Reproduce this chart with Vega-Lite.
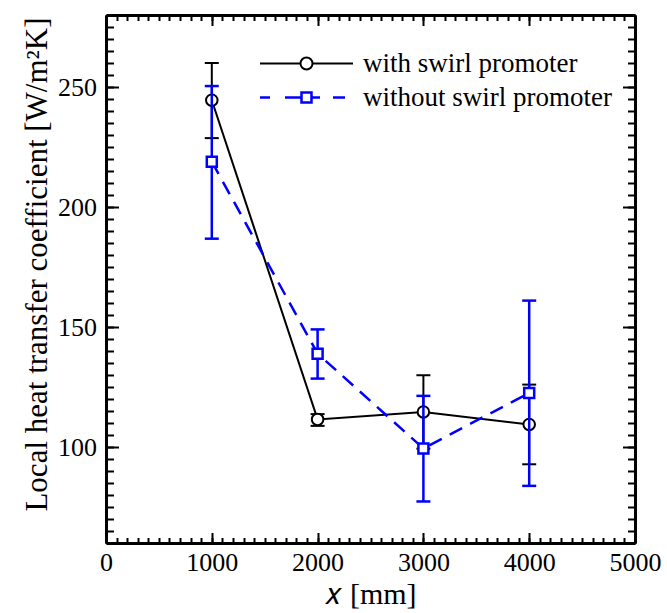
{
  "$schema": "https://vega.github.io/schema/vega-lite/v6.json",
  "autosize": "none",
  "width": 529,
  "height": 528,
  "padding": {"left": 106, "top": 15, "right": 32, "bottom": 70},
  "background": "white",
  "config": {"view": {"stroke": null}, "font": "Liberation Serif",
    "axis": {"labelFont": "Liberation Serif", "titleFont": "Liberation Serif", "labelColor": "black", "titleColor": "black", "tickColor": "black", "domainColor": "black", "grid": false, "titleFontWeight": "normal"},
    "legend": {"labelFont": "Liberation Serif", "labelLimit": 0}},
  "data": {"values": [
    {"series": "with swirl promoter", "x": 1000, "y": 244.5, "lo": 228.7, "hi": 260.0},
    {"series": "with swirl promoter", "x": 2000, "y": 111.5, "lo": 108.8, "hi": 113.7},
    {"series": "with swirl promoter", "x": 3000, "y": 114.6, "lo": 99.3, "hi": 129.9},
    {"series": "with swirl promoter", "x": 4000, "y": 109.4, "lo": 92.8, "hi": 126.0},
    {"series": "without swirl promoter", "x": 1000, "y": 218.9, "lo": 186.8, "hi": 250.4},
    {"series": "without swirl promoter", "x": 2000, "y": 138.9, "lo": 128.5, "hi": 149.0},
    {"series": "without swirl promoter", "x": 3000, "y": 99.4, "lo": 77.3, "hi": 121.3},
    {"series": "without swirl promoter", "x": 4000, "y": 122.5, "lo": 83.8, "hi": 161.0}
  ]},
  "resolve": {"scale": {"x": "shared", "y": "shared"}, "axis": {"x": "independent", "y": "independent"}},
  "layer": [
    {
      "transform": [{"filter": "datum.series === 'with swirl promoter'"}],
      "mark": {"type": "rule", "strokeWidth": 2},
      "encoding": {
        "x": {"field": "x", "type": "quantitative", "scale": {"domain": [0, 5000], "nice": false, "zero": false},
          "axis": {"orient": "bottom", "values": [0, 1000, 2000, 3000, 4000, 5000], "format": "d", "tickSize": -10.5, "tickWidth": 2, "domainWidth": 3, "labelFont": "Liberation Serif", "labelFontSize": 26, "labelPadding": 17, "labelFlush": false, "labelOverlap": false, "title": "𝑥 [mm]", "titleFont": "Liberation Serif", "titleFontSize": 30, "titlePadding": 4}},
        "y": {"field": "lo", "type": "quantitative", "scale": {"domain": [60, 280], "nice": false, "zero": false},
          "axis": {"orient": "left", "values": [100, 150, 200, 250], "format": "d", "tickSize": -12.5, "tickWidth": 2, "domainWidth": 3, "labelFont": "Liberation Serif", "labelFontSize": 26, "labelPadding": 22, "labelFlush": false, "labelOverlap": false, "title": "Local heat transfer coefficient [W/m²K]", "titleFont": "Liberation Serif", "titleFontSize": 31, "titleX": -69, "titleY": 249, "titleAlign": "center", "titleBaseline": "middle"}},
        "y2": {"field": "hi"},
        "color": {"field": "series", "type": "nominal",
          "scale": {"domain": ["with swirl promoter", "without swirl promoter"], "range": ["black", "#0000ff"]},
          "legend": {"orient": "none", "legendX": 187, "legendY": 35, "title": null, "symbolSize": 100, "symbolStrokeWidth": 2, "symbolFillColor": "white",
            "labelFont": "Liberation Serif", "labelFontSize": 27, "labelColor": "black", "labelOffset": 43, "labelLimit": 0, "rowPadding": 6, "padding": 0,
            "encode": {"symbols": {"update": {
              "shape": {"signal": "datum.value === 'with swirl promoter' ? 'M-9.3,0H-1.2M1.2,0H9.3M-1.2,0A1.2,1.2 0 1,0 1.2,0A1.2,1.2 0 1,0 -1.2,0Z' : 'M-9.3,0H-7.3M-4.3,0H-1M1,0H2.7M5.3,0H7.7M-1,-1H1V1H-1Z'"},
              "strokeWidth": {"signal": "datum.value === 'with swirl promoter' ? 2 : 2.5"},
              "fill": {"value": "white"},
              "opacity": {"value": 1}
            }}, "labels": {"update": {"font": {"value": "Liberation Serif"}}}}}}
      }
    },
    {
      "transform": [{"filter": "datum.series === 'with swirl promoter'"}],
      "mark": {"type": "tick", "orient": "horizontal", "size": 14, "thickness": 2, "color": "black", "opacity": 1},
      "encoding": {
        "x": {"field": "x", "type": "quantitative", "scale": {"domain": [0, 5000], "nice": false, "zero": false},
          "axis": {"orient": "bottom", "values": [0,100,200,300,400,500,600,700,800,900,1000,1100,1200,1300,1400,1500,1600,1700,1800,1900,2000,2100,2200,2300,2400,2500,2600,2700,2800,2900,3000,3100,3200,3300,3400,3500,3600,3700,3800,3900,4000,4100,4200,4300,4400,4500,4600,4700,4800,4900,5000], "tickSize": -5.5, "tickWidth": 2, "domain": false, "labels": false, "title": null}},
        "y": {"field": "lo", "type": "quantitative", "scale": {"domain": [60, 280], "nice": false, "zero": false},
          "axis": {"orient": "left", "values": [60,65,70,75,80,85,90,95,100,105,110,115,120,125,130,135,140,145,150,155,160,165,170,175,180,185,190,195,200,205,210,215,220,225,230,235,240,245,250,255,260,265,270,275,280], "tickSize": -7.5, "tickWidth": 2, "domain": false, "labels": false, "title": null}}
      }
    },
    {
      "transform": [{"filter": "datum.series === 'with swirl promoter'"}],
      "mark": {"type": "tick", "orient": "horizontal", "size": 14, "thickness": 2, "color": "black", "opacity": 1},
      "encoding": {
        "x": {"field": "x", "type": "quantitative", "scale": {"domain": [0, 5000], "nice": false, "zero": false},
          "axis": {"orient": "top", "values": [0, 1000, 2000, 3000, 4000, 5000], "tickSize": -10.5, "tickWidth": 2, "domainWidth": 3, "labels": false, "title": null}},
        "y": {"field": "hi", "type": "quantitative", "scale": {"domain": [60, 280], "nice": false, "zero": false},
          "axis": {"orient": "right", "values": [100, 150, 200, 250], "tickSize": -12.5, "tickWidth": 2, "domainWidth": 3, "labels": false, "title": null}}
      }
    },
    {
      "transform": [{"filter": "datum.series === 'with swirl promoter'"}],
      "mark": {"type": "line", "color": "black", "strokeWidth": 2},
      "encoding": {
        "x": {"field": "x", "type": "quantitative", "scale": {"domain": [0, 5000], "nice": false, "zero": false},
          "axis": {"orient": "top", "values": [0,100,200,300,400,500,600,700,800,900,1000,1100,1200,1300,1400,1500,1600,1700,1800,1900,2000,2100,2200,2300,2400,2500,2600,2700,2800,2900,3000,3100,3200,3300,3400,3500,3600,3700,3800,3900,4000,4100,4200,4300,4400,4500,4600,4700,4800,4900,5000], "tickSize": -5.5, "tickWidth": 2, "domain": false, "labels": false, "title": null}},
        "y": {"field": "y", "type": "quantitative", "scale": {"domain": [60, 280], "nice": false, "zero": false},
          "axis": {"orient": "right", "values": [60,65,70,75,80,85,90,95,100,105,110,115,120,125,130,135,140,145,150,155,160,165,170,175,180,185,190,195,200,205,210,215,220,225,230,235,240,245,250,255,260,265,270,275,280], "tickSize": -7.5, "tickWidth": 2, "domain": false, "labels": false, "title": null}}
      }
    },
    {
      "transform": [{"filter": "datum.series === 'with swirl promoter'"}],
      "mark": {"type": "point", "shape": "circle", "size": 133, "filled": true, "fill": "white", "stroke": "black", "strokeWidth": 2, "opacity": 1},
      "encoding": {
        "x": {"field": "x", "type": "quantitative", "axis": null},
        "y": {"field": "y", "type": "quantitative", "axis": null}
      }
    },
    {
      "transform": [{"filter": "datum.series === 'without swirl promoter'"}],
      "mark": {"type": "rule", "strokeWidth": 2.5, "color": "#0000ff"},
      "encoding": {
        "x": {"field": "x", "type": "quantitative", "axis": null},
        "y": {"field": "lo", "type": "quantitative", "axis": null},
        "y2": {"field": "hi"}
      }
    },
    {
      "transform": [{"filter": "datum.series === 'without swirl promoter'"}],
      "mark": {"type": "tick", "orient": "horizontal", "size": 14, "thickness": 2.5, "color": "#0000ff", "opacity": 1},
      "encoding": {
        "x": {"field": "x", "type": "quantitative", "axis": null},
        "y": {"field": "lo", "type": "quantitative", "axis": null}
      }
    },
    {
      "transform": [{"filter": "datum.series === 'without swirl promoter'"}],
      "mark": {"type": "tick", "orient": "horizontal", "size": 14, "thickness": 2.5, "color": "#0000ff", "opacity": 1},
      "encoding": {
        "x": {"field": "x", "type": "quantitative", "axis": null},
        "y": {"field": "hi", "type": "quantitative", "axis": null}
      }
    },
    {
      "transform": [{"filter": "datum.series === 'without swirl promoter'"}],
      "mark": {"type": "line", "color": "#0000ff", "strokeWidth": 2.5, "strokeDash": [14, 9]},
      "encoding": {
        "x": {"field": "x", "type": "quantitative", "axis": null},
        "y": {"field": "y", "type": "quantitative", "axis": null}
      }
    },
    {
      "transform": [{"filter": "datum.series === 'without swirl promoter'"}],
      "mark": {"type": "point", "shape": "square", "size": 100, "filled": true, "fill": "white", "stroke": "#0000ff", "strokeWidth": 2.5, "opacity": 1},
      "encoding": {
        "x": {"field": "x", "type": "quantitative", "axis": null},
        "y": {"field": "y", "type": "quantitative", "axis": null}
      }
    }
  ]
}
